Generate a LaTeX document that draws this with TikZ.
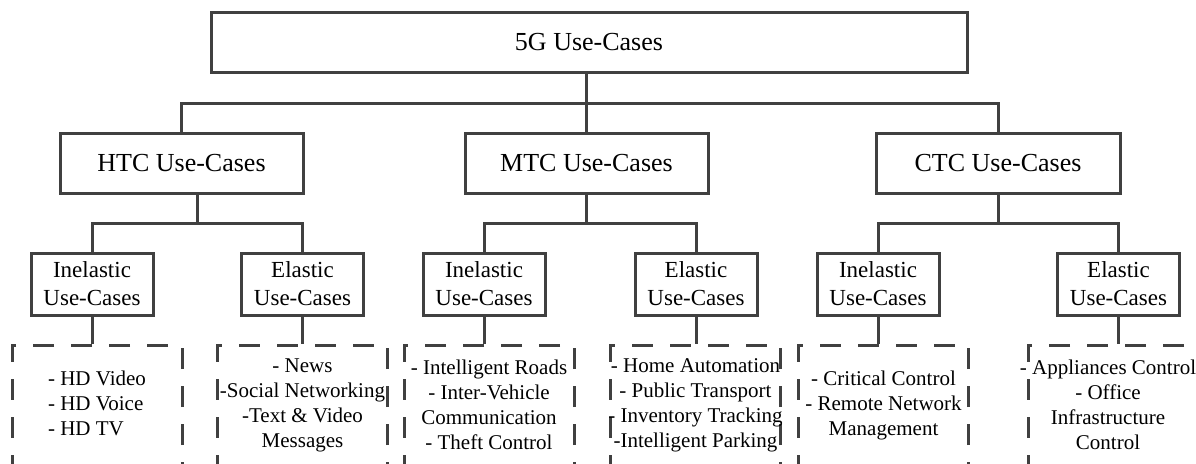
\documentclass[tikz,border=0pt]{standalone}
\usepackage{fontspec}
\setmainfont{Liberation Serif}

\begin{document}
\begin{tikzpicture}[x=1pt,y=-1pt,
    trait/.style={draw=black!75,line width=3pt},
    boite/.style={trait,inner sep=0pt,minimum height=60pt,align=center,
      font=\fontsize{26}{31}\selectfont},
    sousboite/.style={trait,inner sep=0pt,minimum width=122pt,minimum height=62pt,
      align=center,font=\fontsize{23}{28}\selectfont},
    liste/.style={trait,dash pattern=on 21pt off 17pt,inner sep=0pt,
      minimum width=170pt,minimum height=120pt},
    texte/.style={inner sep=0pt,align=center,font=\fontsize{21}{25}\selectfont}]
    \pgfmathsetmacro{\yBus}{103}     % niveau du bus principal
    \pgfmathsetmacro{\yBusBas}{223}  % niveau des bus secondaires
    \pgfmathsetmacro{\yListe}{405}   % centre des listes

    \useasboundingbox (0,0) rectangle (1196,463);
    \clip (0,0) rectangle (1196,463);

    % Racine
    \node[boite,minimum width=756pt] (racine) at (589,42) {5G Use-Cases};

    % Familles
    \node[boite,minimum width=243pt] (htc) at (181.5,163) {HTC Use-Cases};
    \node[boite,minimum width=243pt] (mtc) at (586.5,163) {MTC Use-Cases};
    \node[boite,minimum width=244pt] (ctc) at (998,163) {CTC Use-Cases};

    \coordinate (bus) at (586.5,\yBus);
    \draw[trait] (racine.south -| bus) -- (mtc.north);
    \draw[trait] (htc.north) |- (bus) -| (ctc.north);

    % Sous-familles
    \node[sousboite] (htcIn) at (92,284) {Inelastic\\Use-Cases};
    \node[sousboite] (htcEl) at (302.5,284) {Elastic\\Use-Cases};
    \node[sousboite] (mtcIn) at (484,284) {Inelastic\\Use-Cases};
    \node[sousboite] (mtcEl) at (696,284) {Elastic\\Use-Cases};
    \node[sousboite] (ctcIn) at (878,284) {Inelastic\\Use-Cases};
    \node[sousboite] (ctcEl) at (1118.5,284) {Elastic\\Use-Cases};

    \coordinate (htcBus) at (197,\yBusBas);
    \coordinate (mtcBus) at (mtc.south |- 0,\yBusBas);
    \coordinate (ctcBus) at (ctc.south |- 0,\yBusBas);
    \foreach \fam in {htc,mtc,ctc}{
        \draw[trait] (\fam.south -| \fam Bus) -- (\fam Bus);
        \draw[trait] (\fam In.north) |- (\fam Bus) -| (\fam El.north);
    }

    % Listes d'exemples (cadres)
    \node[liste] (htcInListe) at (97,\yListe) {};
    \node[liste] (htcElListe) at (302.5,\yListe) {};
    \node[liste] (mtcInListe) at (489,\yListe) {};
    \node[liste] (mtcElListe) at (695.5,\yListe) {};
    \node[liste] (ctcInListe) at (883.5,\yListe) {};
    \node[liste] (ctcElListe) at (1113,\yListe) {};

    % Listes d'exemples (textes)
    \node[texte] (htcInTexte) at (htcInListe)
        {\begin{tabular}{@{}l@{}}- HD Video\\- HD Voice\\- HD TV\end{tabular}};
    \node[texte] (htcElTexte) at (htcElListe)
        {- News\\-Social Networking\\-Text \& Video\\Messages};
    \node[texte] (mtcInTexte) at (mtcInListe)
        {- Intelligent Roads\\- Inter-Vehicle\\Communication\\- Theft Control};
    \node[texte] (mtcElTexte) at (mtcElListe)
        {- Home Automation\\- Public Transport\\- Inventory Tracking\\-Intelligent Parking};
    \node[texte] (ctcInTexte) at (ctcInListe)
        {- Critical Control\\- Remote Network\\Management};
    \node[texte,xshift=-5pt] (ctcElTexte) at (ctcElListe)
        {- Appliances Control\\- Office\\Infrastructure\\Control};

    \foreach \sous in {htcIn,htcEl,mtcIn,mtcEl,ctcIn,ctcEl}{
        \draw[trait] (\sous.south) -- (\sous.south |- \sous Liste.north);
    }
\end{tikzpicture}
\end{document}
